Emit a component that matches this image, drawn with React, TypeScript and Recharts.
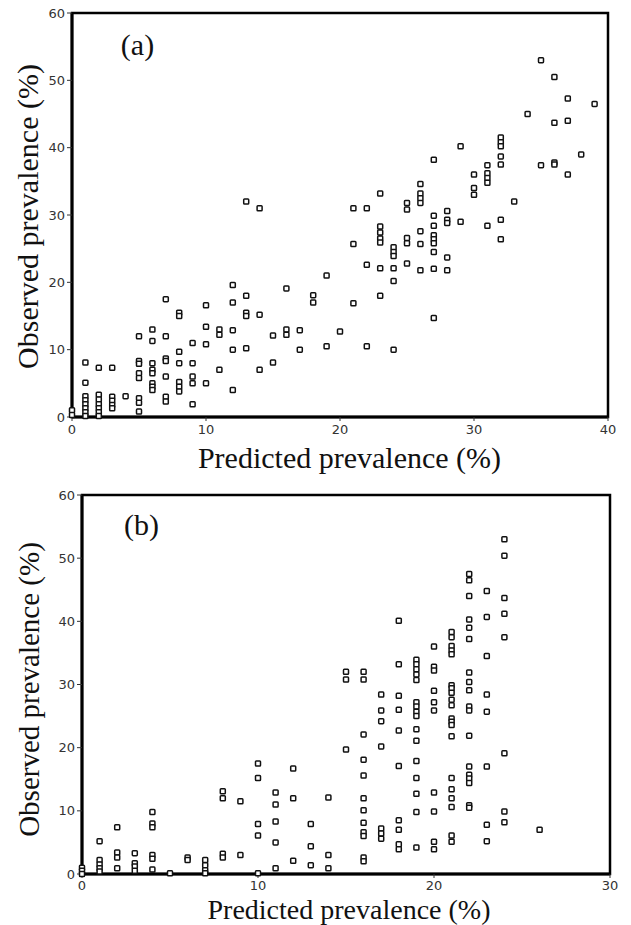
import { ScatterChart, Scatter, XAxis, YAxis, ReferenceArea } from 'recharts';

// (a): predicted column values and the observed values stacked in each column
const predA = [
  0, 1, 2, 3, 4, 5, 6, 7, 8, 9, 10, 11, 12, 13, 14, 15, 16, 17, 18, 19,
  20, 21, 22, 23, 24, 25, 26, 27, 28, 29, 30, 31, 32, 33, 34, 35, 36, 37, 38, 39,
];
const obsA = [
  [1.0, 0.3],
  [8.1, 5.1, 3.1, 2.5, 1.9, 1.3, 0.7, 0.15],
  [7.3, 3.3, 2.6, 1.9, 1.3, 0.7, 0.15],
  [7.3, 3.0, 2.4, 1.8, 1.3],
  [3.1],
  [12.0, 8.3, 7.9, 6.5, 5.8, 2.8, 2.1, 0.8],
  [13.0, 11.3, 8.0, 7.0, 6.5, 5.0, 4.5, 4.0],
  [17.5, 12.0, 8.7, 8.3, 6.0, 3.0, 2.3],
  [15.5, 15.0, 9.7, 8.0, 5.2, 4.5, 3.8],
  [11.0, 8.0, 6.0, 5.0, 1.9],
  [16.6, 13.4, 10.8, 5.0],
  [13.0, 12.2, 7.0],
  [19.6, 17.0, 12.9, 10.0, 4.0],
  [32.0, 18.0, 15.5, 15.0, 10.2],
  [31.0, 15.2, 7.0],
  [12.1, 8.1],
  [19.1, 13.0, 12.2],
  [12.9, 10.0],
  [18.1, 17.0],
  [21.0, 10.5],
  [12.7],
  [31.0, 25.7, 16.9],
  [31.0, 22.6, 10.5],
  [33.2, 28.3, 27.4, 26.5, 25.9, 22.1, 18.0],
  [25.2, 24.5, 23.9, 22.1, 20.2, 10.0],
  [31.8, 30.8, 26.6, 25.8, 22.8],
  [34.6, 33.2, 32.5, 31.8, 27.6, 25.7, 21.8],
  [38.2, 29.9, 28.4, 27.0, 26.4, 25.8, 24.5, 22.0, 14.7],
  [30.6, 29.3, 28.8, 23.7, 21.8],
  [40.2, 29.0],
  [36.0, 34.0, 33.0],
  [37.4, 36.2, 35.5, 34.8, 28.4],
  [41.5, 40.8, 40.2, 38.7, 37.5, 29.3, 26.4],
  [32.0],
  [45.0],
  [53.0, 37.4],
  [50.5, 43.7, 37.8, 37.5],
  [47.3, 44.0, 36.0],
  [39.0],
  [46.5],
];

// (b)
const predB = [0, 1, 2, 3, 4, 5, 6, 7, 8, 9, 10, 11, 12, 13, 14, 15, 16, 17, 18, 19, 20, 21, 22, 23, 24, 26];
const obsB = [
  [1.0, 0.5, 0],
  [5.2, 2.2, 1.5, 0.9, 0.4],
  [7.4, 3.4, 2.6, 0.9],
  [3.3, 1.7, 1.2, 0.5],
  [9.8, 8.0, 7.4, 3.0, 2.4, 0.7],
  [0.1],
  [2.6, 2.2],
  [2.2, 1.4, 0.6, 0.1],
  [13.1, 12.0, 3.2, 2.6],
  [11.5, 3.0],
  [17.5, 15.2, 7.9, 6.1, 0.1],
  [12.9, 11.0, 8.3, 5.0, 0.9],
  [16.7, 12.0, 2.1],
  [7.9, 4.4, 1.4],
  [12.1, 3.0, 0.9],
  [32.0, 30.8, 19.7],
  [32.0, 30.8, 22.1, 18.1, 15.6, 12.0, 10.1, 8.1, 6.6, 6.0, 2.6, 2.0],
  [28.4, 25.9, 24.2, 20.2, 7.2, 6.4, 5.6],
  [40.1, 33.2, 28.2, 26.0, 22.7, 17.1, 8.5, 7.0, 4.7, 3.9],
  [33.9, 33.2, 32.4, 31.6, 30.7, 27.2, 26.5, 25.7, 25.0, 22.9, 21.1, 17.9, 15.2, 12.7, 9.8, 4.2],
  [36.0, 32.8, 32.2, 29.0, 27.2, 25.9, 12.9, 9.9, 5.1, 3.9],
  [38.3, 37.5, 36.1, 35.4, 34.8, 29.9, 29.4, 28.7, 27.6, 26.7, 24.6, 24.1, 23.6, 21.8, 15.2, 13.4, 12.0, 10.6, 6.1, 5.1],
  [47.5, 46.5, 44.0, 40.3, 39.0, 37.2, 31.9, 30.4, 29.1, 26.5, 25.9, 21.9, 17.0, 15.7, 15.1, 14.4, 10.9, 10.5],
  [44.8, 40.7, 34.5, 28.4, 25.7, 17.0, 7.8, 5.2],
  [53.0, 50.4, 43.7, 41.2, 37.5, 19.1, 9.9, 8.2],
  [7.0],
];

const xTicksA = [0, 10, 20, 30, 40];
const xTicksB = [0, 10, 20, 30];
const yTicks = [0, 10, 20, 30, 40, 50, 60];

const toPoints = (xs: number[], ys: number[][]) =>
  xs.flatMap((x, i) => ys[i].map((y) => ({ x, y })));

const tickStyle = { fill: '#333', fontSize: 13, fontFamily: 'DejaVu Sans' };
const serif = '"Liberation Serif", "Times New Roman", serif';

const Square = (props: any) => {
  const { cx, cy } = props;
  if (cx == null || cy == null) return null;
  return (
    <rect x={cx - 2.5} y={cy - 2.5} width={5} height={5} rx={0.8}
      fill="#fff" stroke="#111" strokeWidth={1.5} />
  );
};

function Panel({ data, xMax, xTicks, width, height, margin, xTickMargin }: any) {
  return (
    <ScatterChart width={width} height={height} margin={margin}>
      <XAxis type="number" dataKey="x" domain={[0, xMax]} ticks={xTicks} height={30}
        axisLine={{ stroke: '#000', strokeWidth: 3 }} tickLine={{ stroke: '#333' }}
        tickSize={4} tickMargin={xTickMargin} tick={tickStyle} />
      <YAxis type="number" dataKey="y" domain={[0, 60]} ticks={yTicks} width={40}
        axisLine={{ stroke: '#000', strokeWidth: 3 }} tickLine={{ stroke: '#333' }}
        tickSize={5} tickMargin={2} tick={tickStyle} />
      <ReferenceArea x1={0} x2={xMax} y1={0} y2={60} fill="none" stroke="#000"
        strokeWidth={2.5} ifOverflow="visible" />
      <Scatter data={data} shape={Square} isAnimationActive={false} />
    </ScatterChart>
  );
}

export default function App() {
  const pointsA = toPoints(predA, obsA);
  const pointsB = toPoints(predB, obsB);
  return (
    <div style={{ position: 'absolute', left: 0, top: 0, width: 631, height: 925, background: '#fff' }}>
      <div style={{ position: 'absolute', left: 0, top: 0 }}>
        <Panel data={pointsA} xMax={40} xTicks={xTicksA} width={631} height={470} xTickMargin={4}
          margin={{ top: 13, right: 23, bottom: 23, left: 32 }} />
      </div>
      <div style={{ position: 'absolute', left: 0, top: 480 }}>
        <Panel data={pointsB} xMax={30} xTicks={xTicksB} width={631} height={445} xTickMargin={3}
          margin={{ top: 15, right: 21, bottom: 21, left: 42 }} />
      </div>
      <svg width={631} height={925} style={{ position: 'absolute', left: 0, top: 0, pointerEvents: 'none' }}>
        <text x={137.5} y={55} textAnchor="middle" fontFamily={serif} fontSize={30} fill="#111">(a)</text>
        <text x={349.5} y={468} textAnchor="middle" fontFamily={serif} fontSize={30} fill="#111">Predicted prevalence (%)</text>
        <text transform="translate(38,216.5) rotate(-90)" textAnchor="middle" fontFamily={serif} fontSize={30} fill="#111">Observed prevalence (%)</text>
        <text x={141.5} y={535} textAnchor="middle" fontFamily={serif} fontSize={30} fill="#111">(b)</text>
        <text x={349} y={919} textAnchor="middle" fontFamily={serif} fontSize={28} fill="#111">Predicted prevalence (%)</text>
        <text transform="translate(39,689.5) rotate(-90)" textAnchor="middle" fontFamily={serif} fontSize={29} fill="#111">Observed prevalence (%)</text>
      </svg>
    </div>
  );
}
